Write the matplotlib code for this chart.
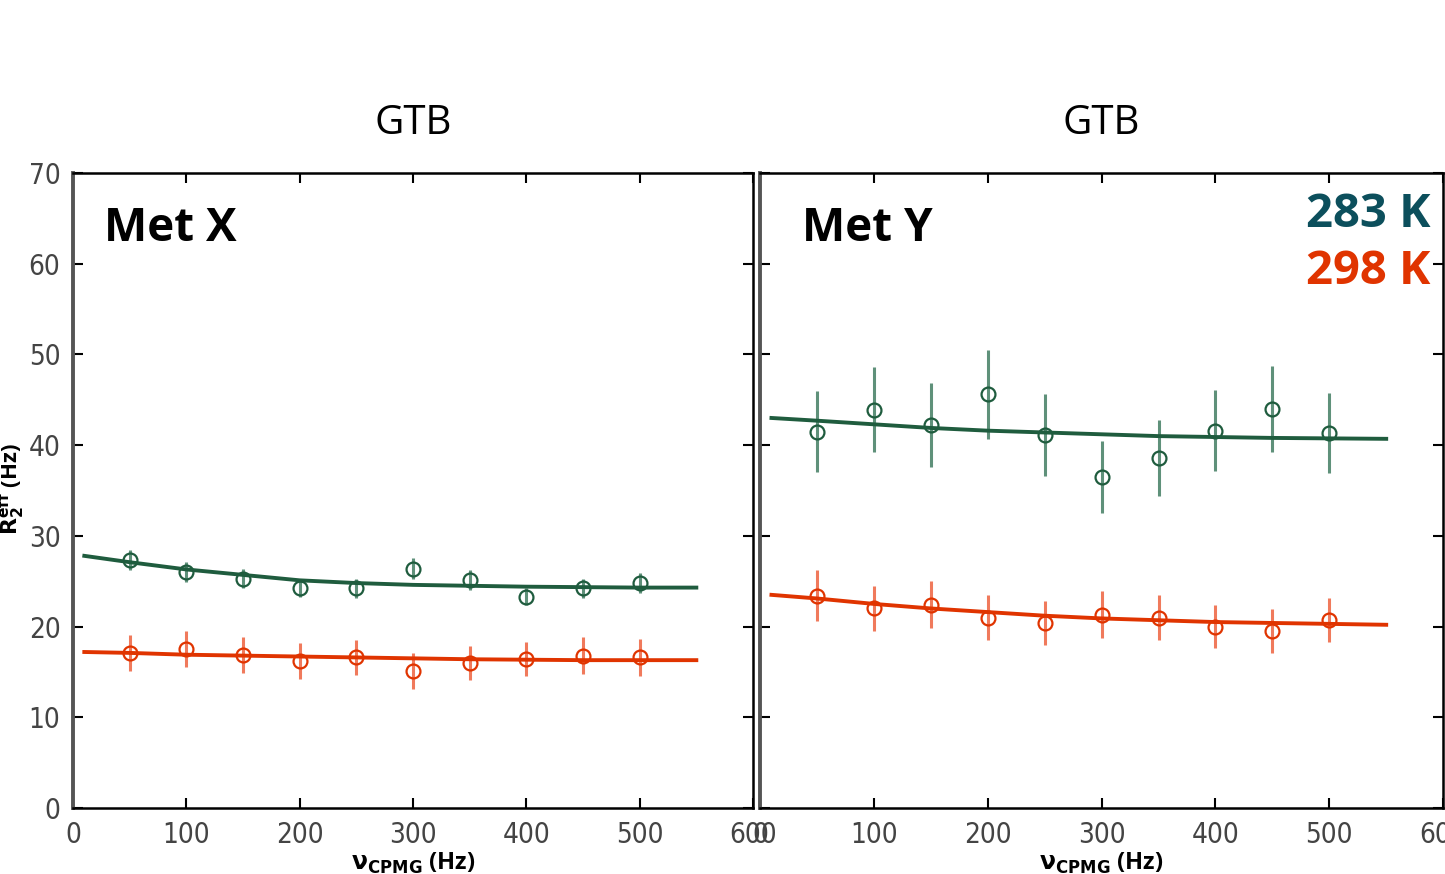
import matplotlib.pyplot as plt

# CPMG relaxation dispersion, two methionine sites at two temperatures
nu_cpmg = [50, 100, 150, 200, 250, 300, 350, 400, 450, 500]

# Met X
metx_283 = [27.3, 26.0, 25.3, 24.3, 24.2, 26.4, 25.1, 23.3, 24.2, 24.8]
metx_283_err = [1.1, 1.1, 1.1, 1.0, 1.0, 1.2, 1.1, 0.9, 1.0, 1.1]
metx_298 = [17.1, 17.5, 16.9, 16.2, 16.6, 15.1, 16.0, 16.4, 16.8, 16.6]
metx_298_err = [2.0, 2.0, 2.0, 2.0, 1.9, 2.0, 1.9, 1.9, 2.0, 2.0]

# Met Y
mety_283 = [41.5, 43.9, 42.2, 45.6, 41.1, 36.5, 38.6, 41.6, 44.0, 41.3]
mety_283_err = [4.5, 4.7, 4.6, 4.9, 4.5, 4.0, 4.2, 4.5, 4.7, 4.4]
mety_298 = [23.4, 22.0, 22.4, 21.0, 20.4, 21.3, 21.0, 20.0, 19.5, 20.7]
mety_298_err = [2.8, 2.5, 2.6, 2.5, 2.4, 2.6, 2.5, 2.4, 2.4, 2.4]

# fitted curves
fit_nu = [10, 50, 100, 150, 200, 250, 300, 350, 400, 450, 500, 550]
metx_283_fit = [27.8, 27.1, 26.3, 25.7, 25.1, 24.8, 24.6, 24.5, 24.4, 24.35, 24.3, 24.3]
metx_298_fit = [17.2, 17.1, 16.9, 16.8, 16.7, 16.6, 16.5, 16.4, 16.35, 16.3, 16.3, 16.3]
mety_283_fit = [43.0, 42.7, 42.3, 41.9, 41.6, 41.4, 41.2, 41.0, 40.9, 40.8, 40.75, 40.7]
mety_298_fit = [23.5, 23.1, 22.5, 22.0, 21.6, 21.2, 20.9, 20.7, 20.5, 20.4, 20.3, 20.2]

GREEN = "#1f5c3e"
GREEN_ERR = "#5f917a"
RED = "#e03400"
RED_ERR = "#f07a5c"
TEAL = "#0c4f5c"

TEXT_FONT = ["Open Sans", "DejaVu Sans"]

fig = plt.figure(figsize=(14.45, 8.74), dpi=100)
ax1 = fig.add_axes([0.0505, 0.0755, 0.4706, 0.7265])
ax2 = fig.add_axes([0.526, 0.0755, 0.4727, 0.7265])


def draw_series(ax, y, yerr, fit, color, ecolor):
    ax.errorbar(nu_cpmg, y, yerr=yerr, fmt="none", ecolor=ecolor, elinewidth=2.2, capsize=0, zorder=2)
    ax.plot(nu_cpmg, y, linestyle="none", marker="o", markersize=10, markerfacecolor="none",
            markeredgecolor=color, markeredgewidth=1.6, zorder=3)
    ax.plot(fit_nu, fit, color=color, linewidth=2.8, zorder=4)


draw_series(ax1, metx_283, metx_283_err, metx_283_fit, GREEN, GREEN_ERR)
draw_series(ax1, metx_298, metx_298_err, metx_298_fit, RED, RED_ERR)
draw_series(ax2, mety_283, mety_283_err, mety_283_fit, GREEN, GREEN_ERR)
draw_series(ax2, mety_298, mety_298_err, mety_298_fit, RED, RED_ERR)

for ax in (ax1, ax2):
    ax.set_xlim(0, 600)
    ax.set_ylim(0, 70)
    ax.set_xticks(range(0, 601, 100))
    ax.set_yticks(range(0, 71, 10))
    ax.tick_params(direction="in", length=7, width=1.5, top=True, right=True,
                   labelsize=20, labelcolor="#444444", pad=9)
    for lab in ax.get_xticklabels() + ax.get_yticklabels():
        lab.set_family("DejaVu Sans")
        lab.set_fontstretch("condensed")
        lab.set_fontweight("light")
    for side in ("top", "right", "bottom"):
        ax.spines[side].set_linewidth(1.8)
        ax.spines[side].set_color("black")
    ax.spines["left"].set_linewidth(2.8)
    ax.spines["left"].set_color("#555555")
    ax.set_title("GTB", fontsize=29, pad=28, family=TEXT_FONT)
    ax.set_xlabel(r"$\mathbf{\nu_{CPMG}}$ (Hz)", fontsize=17, fontweight="bold", labelpad=2,
                  family=TEXT_FONT)

ax2.tick_params(labelleft=False)

fig.text(11 / 1445, 0.44, r"$\mathbf{R_2^{eff}}$ (Hz)", rotation=90, fontsize=16,
         fontweight="bold", ha="center", va="center", family=TEXT_FONT)

ax1.text(0.045, 0.913, "Met X", transform=ax1.transAxes, fontsize=33, fontweight="bold",
         va="center", family=TEXT_FONT)
ax2.text(0.062, 0.913, "Met Y", transform=ax2.transAxes, fontsize=33, fontweight="bold",
         va="center", family=TEXT_FONT)
ax2.text(0.982, 0.935, "283 K", transform=ax2.transAxes, fontsize=34, fontweight="bold",
         color=TEAL, ha="right", va="center", family=TEXT_FONT)
ax2.text(0.982, 0.845, "298 K", transform=ax2.transAxes, fontsize=34, fontweight="bold",
         color=RED, ha="right", va="center", family=TEXT_FONT)

fig.savefig("out.png", dpi=100)
